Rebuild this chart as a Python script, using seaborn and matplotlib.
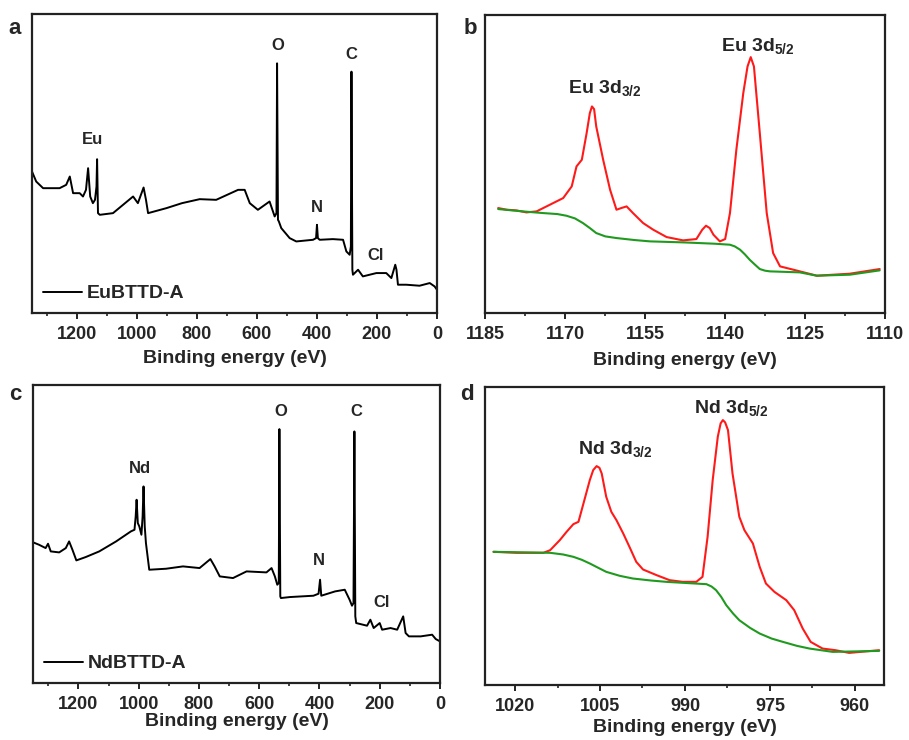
import numpy as np
import pandas as pd
import matplotlib
matplotlib.use("Agg")
import matplotlib.pyplot as plt
from matplotlib.ticker import MultipleLocator
import seaborn as sns

# ---------------- data (arbitrary intensity units) ----------------
eu_survey_be = [1350, 1336, 1313, 1258, 1236, 1224, 1213, 1191, 1180, 1170, 1163, 1156, 1147, 1140,
                1135, 1133, 1130, 1124, 1080, 1013, 997, 978, 970, 963, 902, 850, 791, 736, 663, 641, 624,
                597, 558, 541, 535, 533, 530, 527, 519, 491, 469, 413, 403, 400, 397, 391, 347, 313,
                302, 291, 287, 285, 282, 280, 263, 247, 202, 169, 152, 139, 135, 130, 102, 58, 24, 8, 0]
eu_survey_int = [425, 395, 375, 375, 385, 410, 360, 360, 350, 370, 435, 350, 330, 340,
                 380, 462, 300, 295, 300, 350, 330, 377, 340, 300, 315, 330, 342, 340, 370, 370, 330,
                 310, 335, 290, 300, 750, 280, 275, 255, 225, 215, 220, 225, 265, 225, 220, 222, 220,
                 185, 175, 200, 725, 130, 115, 130, 110, 120, 120, 105, 145, 130, 85, 85, 82, 90, 80, 70]

nd_survey_be = [1350, 1331, 1309, 1301, 1292, 1264, 1242, 1231, 1220, 1207, 1176, 1131, 1075, 1026,
                1014, 1010, 1007, 1003, 998, 991, 987, 984, 980, 976, 965, 909, 853, 798, 762, 748,
                731, 687, 642, 576, 559, 548, 540, 535, 533, 530, 528, 498, 420, 403, 398, 394, 348,
                316, 300, 292, 287, 284, 281, 278, 242, 231, 220, 200, 192, 164, 142, 122, 114, 103,
                64, 26, 14, 0]
nd_survey_int = [422, 415, 405, 418, 395, 392, 405, 425, 400, 368, 378, 395, 425, 455,
                 460, 500, 550, 480, 470, 445, 500, 590, 470, 420, 340, 343, 350, 345, 372, 350,
                 320, 315, 335, 332, 345, 320, 295, 300, 762, 260, 255, 258, 262, 268, 310, 262, 275,
                 280, 250, 232, 240, 755, 200, 180, 172, 190, 165, 180, 160, 165, 160, 200, 150, 140,
                 140, 145, 132, 125]

eu3d_be = [1182.6, 1181.0, 1179.2, 1177.3, 1175.4, 1172.9, 1170.4, 1168.8, 1167.9, 1166.9, 1166.0,
           1165.4, 1165.0, 1164.6, 1164.2, 1162.9, 1161.6, 1160.4, 1159.5, 1158.5, 1157.3, 1155.4,
           1153.5, 1151.0, 1147.9, 1145.4, 1144.3, 1143.6, 1142.9, 1142.2, 1141.0, 1140.0, 1139.1,
           1137.9, 1136.6, 1135.8, 1135.2, 1134.6, 1133.5, 1132.2, 1131.0, 1129.7, 1127.2, 1122.8,
           1116.6, 1111.0]
eu3d_int = [315, 310, 308, 302, 305, 325, 345, 380, 440, 460, 540,
            600, 620, 612, 560, 460, 370, 310, 315, 320, 300, 270,
            250, 228, 218, 222, 250, 262, 255, 235, 215, 222, 300,
            490, 660, 740, 768, 740, 540, 300, 180, 140, 130, 112,
            118, 132]
eu3d_bg_be = [1182.6, 1178.0, 1174.2, 1171.5, 1169.8, 1168.2, 1166.7, 1165.4, 1164.2, 1162.5, 1160.4,
              1157.0, 1154.1, 1147.9, 1142.0, 1139.1, 1138.2, 1137.2, 1136.3, 1135.4, 1134.4, 1133.5,
              1132.5, 1131.6, 1126.0, 1122.8, 1116.6, 1111.0]
eu3d_bg_int = [312, 305, 300, 297, 292, 284, 270, 255, 240, 230, 225,
               219, 215, 212, 208, 205, 200, 190, 176, 160, 145, 132,
               127, 125, 122, 112, 115, 128]

nd3d_be = [1023.8, 1019.7, 1015.0, 1013.8, 1012.1, 1010.9, 1009.7, 1008.8, 1008.0, 1006.8, 1006.2,
           1005.6, 1005.1, 1004.7, 1003.9, 1003.0, 1002.1, 1000.9, 999.8, 998.6, 997.4, 995.0, 992.7,
           990.4, 988.0, 986.9, 986.0, 985.1, 984.2, 983.7, 983.3, 982.9, 982.4, 981.6, 980.4, 979.5,
           978.0, 976.8, 975.7, 974.2, 972.1, 970.7, 969.2, 967.8, 965.7, 963.4, 961.0, 955.7]
nd3d_int = [400, 397, 397, 405, 435, 460, 483, 490, 540, 615, 645,
            657, 652, 635, 565, 520, 495, 455, 415, 370, 347, 330, 315,
            310, 310, 325, 445, 615, 745, 785, 795, 788, 765, 635, 505, 465,
            425, 355, 305, 280, 255, 225, 170, 130, 110, 105, 97, 105]
nd3d_bg_be = [1023.8, 1013.8, 1011.5, 1009.7, 1008.2, 1006.8, 1005.3, 1003.9, 1001.5, 999.2, 996.0,
              993.3, 986.2, 985.3, 984.5, 983.6, 982.7, 981.5, 980.4, 978.5, 976.8, 974.7, 972.7,
              970.2, 968.0, 963.9, 955.7]
nd3d_bg_int = [400, 397, 392, 385, 376, 365, 352, 340, 328, 320, 314,
               310, 303, 296, 285, 265, 240, 215, 195, 172, 155, 140, 130,
               118, 110, 100, 103]

eu_survey_labels = ["Eu", "O", "N", "C", "Cl"]
eu_survey_label_x = [1147, 530, 400, 285, 205]
eu_survey_label_y = [500, 780, 295, 755, 150]
nd_survey_labels = ["Nd", "O", "N", "C", "Cl"]
nd_survey_label_x = [995, 528, 401, 278, 194]
nd_survey_label_y = [620, 792, 345, 792, 220]

eu_hr_labels = [r"Eu 3d$_{\bf 3/2}$", r"Eu 3d$_{\bf 5/2}$"]
eu_hr_label_x = [1162.6, 1133.8]
eu_hr_label_y = [672, 800]
nd_hr_labels = [r"Nd 3d$_{\bf 3/2}$", r"Nd 3d$_{\bf 5/2}$"]
nd_hr_label_x = [1002.2, 981.8]
nd_hr_label_y = [705, 830]

# ---------------- style ----------------
sns.set_style("ticks")
plt.rcParams["font.family"] = ["Liberation Sans", "DejaVu Sans"]
plt.rcParams["font.weight"] = "bold"
plt.rcParams["mathtext.fontset"] = "custom"
plt.rcParams["mathtext.rm"] = "Liberation Sans:bold"
plt.rcParams["mathtext.bf"] = "Liberation Sans:bold"
plt.rcParams["axes.linewidth"] = 1.6
plt.rcParams["axes.edgecolor"] = "#222222"

RED = "#ff1a1a"
GREEN = "#1f9a1f"

fig = plt.figure(figsize=(9.09, 7.40), dpi=100)
ax_a = fig.add_axes([0.0352, 0.577, 0.4455, 0.404])
ax_b = fig.add_axes([0.534, 0.577, 0.4396, 0.403])
ax_c = fig.add_axes([0.0366, 0.077, 0.4474, 0.403])
ax_d = fig.add_axes([0.5336, 0.074, 0.4392, 0.4034])


def style_axis(ax, xlim, major, minor, labelpad):
    ax.set_xlim(*xlim)
    ax.set_ylim(0, 898)
    ax.set_yticks([])
    ax.set_ylabel("")
    ax.xaxis.set_major_locator(MultipleLocator(major))
    ax.xaxis.set_minor_locator(MultipleLocator(minor))
    ax.tick_params(axis="x", which="major", direction="out", length=4, width=1.4,
                   labelsize=13, pad=5, color="#222222")
    ax.tick_params(axis="x", which="minor", direction="out", length=2.5, width=1.2, color="#222222")
    for lab in ax.get_xticklabels():
        lab.set_fontweight("bold")
    ax.set_xlabel("Binding energy (eV)", fontsize=14, fontweight="bold", labelpad=labelpad)
    for s in ax.spines.values():
        s.set_visible(True)
        s.set_linewidth(1.6)


LEG = dict(loc="lower left", frameon=False, handlelength=2.0, borderaxespad=0.25,
           handletextpad=0.25, borderpad=0.3, prop={"weight": "bold", "size": 14})

# Survey a
df_a = pd.DataFrame({"be": eu_survey_be, "intensity": eu_survey_int})
sns.lineplot(data=df_a, x="be", y="intensity", ax=ax_a, color="black", lw=1.4,
             sort=False, estimator=None, label="EuBTTD-A")
style_axis(ax_a, (1350, 0), 200, 100, 5.5)
for t, x, y in zip(eu_survey_labels, eu_survey_label_x, eu_survey_label_y):
    ax_a.text(x, y, t, ha="center", va="bottom", fontsize=12, fontweight="bold")
ax_a.legend(**LEG)

# Survey c
df_c = pd.DataFrame({"be": nd_survey_be, "intensity": nd_survey_int})
sns.lineplot(data=df_c, x="be", y="intensity", ax=ax_c, color="black", lw=1.4,
             sort=False, estimator=None, label="NdBTTD-A")
style_axis(ax_c, (1350, 0), 200, 100, 0.5)
ax_c.set_ylim(0, 895)
for t, x, y in zip(nd_survey_labels, nd_survey_label_x, nd_survey_label_y):
    ax_c.text(x, y, t, ha="center", va="bottom", fontsize=12, fontweight="bold")
ax_c.legend(**LEG)

# High-res b
sns.lineplot(x=eu3d_be, y=eu3d_int, ax=ax_b, color=RED, lw=1.5, sort=False, estimator=None)
sns.lineplot(x=eu3d_bg_be, y=eu3d_bg_int, ax=ax_b, color=GREEN, lw=1.5, sort=False, estimator=None)
style_axis(ax_b, (1185, 1110), 15, 7.5, 7)
ax_b.set_ylim(0, 895)
for t, x, y in zip(eu_hr_labels, eu_hr_label_x, eu_hr_label_y):
    ax_b.text(x, y, t, ha="center", va="center", fontsize=14, fontweight="bold")

# High-res d
sns.lineplot(x=nd3d_be, y=nd3d_int, ax=ax_d, color=RED, lw=1.5, sort=False, estimator=None)
sns.lineplot(x=nd3d_bg_be, y=nd3d_bg_int, ax=ax_d, color=GREEN, lw=1.5, sort=False, estimator=None)
style_axis(ax_d, (1025.3, 954.8), 15, 7.5, 3)
ax_d.set_ylim(0, 895)
for t, x, y in zip(nd_hr_labels, nd_hr_label_x, nd_hr_label_y):
    ax_d.text(x, y, t, ha="center", va="center", fontsize=14, fontweight="bold")

# panel letters
for letter, (px, py) in zip("abcd", [(15, 28), (470, 28), (15, 395), (467, 395)]):
    fig.text(px / 909, 1 - py / 740, letter, fontsize=16, fontweight="bold",
             ha="center", va="center")

fig.savefig("out.png", dpi=100)
